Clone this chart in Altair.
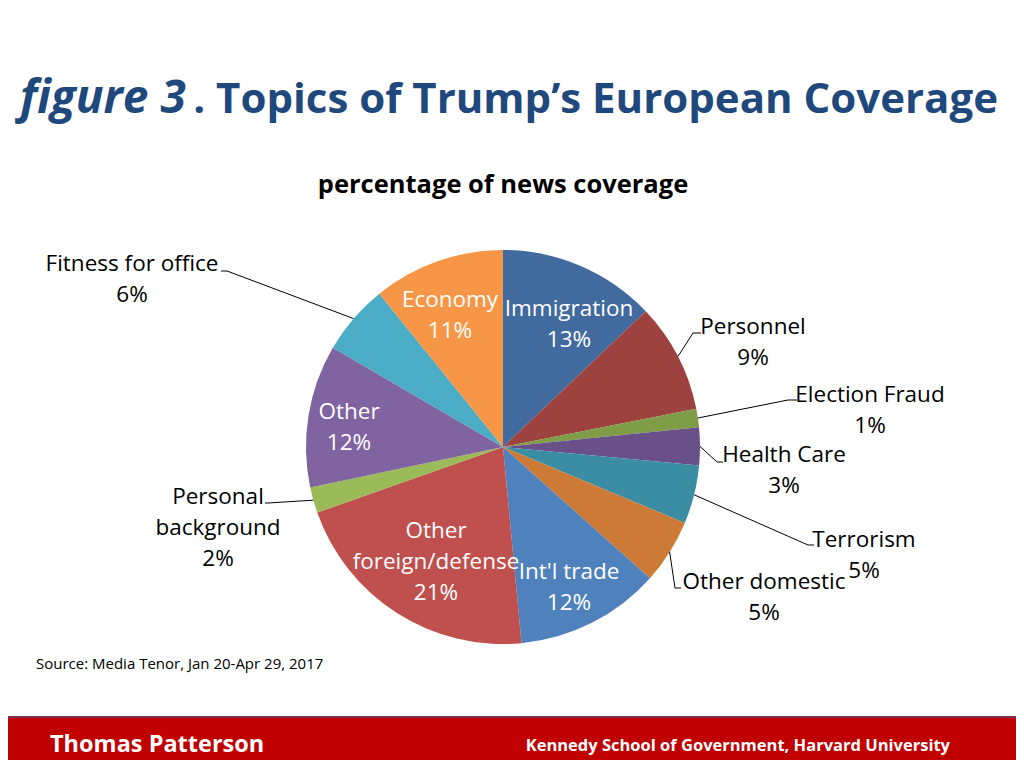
import math
import altair as alt
import pandas as pd

# ---------------- data ----------------
topics = ["Immigration", "Personnel", "Election Fraud", "Health Care", "Terrorism",
          "Other domestic", "Int'l trade", "Other foreign/defense", "Personal background",
          "Other", "Fitness for office", "Economy"]
shares = [12.9, 9.0, 1.5, 3.1, 4.8, 5.3, 11.9, 21.1, 2.1, 11.7, 5.8, 10.8]
pct_labels = ["13%", "9%", "1%", "3%", "5%", "5%", "12%", "21%", "2%", "12%", "6%", "11%"]
colors = ["#416A9E", "#9E4240", "#7E9D46", "#6A5088", "#3A8DA3", "#CD7A37",
          "#4F81BD", "#C0504D", "#9BBB59", "#8064A2", "#4BACC6", "#F79646"]

title_italic = "figure 3"
title_rest = ". Topics of Trump\u2019s European Coverage"
subtitle = "percentage of news coverage"
source = "Source: Media Tenor, Jan 20-Apr 29, 2017"
footer_left = "Thomas Patterson"
footer_right = "Kennedy School of Government, Harvard University"

# ---------------- layout (page pixels) ----------------
FONT = "Open Sans"
OFF = 8
W, H = 1008, 752
CX, CY, R = 503, 447, 197
LS = 31  # label line spacing
LSIZE = 22.5
wrap = {"Other foreign/defense": "Other\nforeign/defense",
        "Personal background": "Personal\nbackground"}
# centre of the first text line of each label
inside_pos = {"Immigration": (569, 309), "Int'l trade": (569, 572),
              "Other foreign/defense": (436, 531), "Other": (349, 412),
              "Economy": (450, 300)}
outside_pos = {
    "Personnel": ((753, 327), [(693, 333), (701, 333)]),
    "Election Fraud": ((870, 395), [(788, 400), (797, 400)]),
    "Health Care": ((784, 455), [(717, 462), (723, 462)]),
    "Terrorism": ((864, 540), [(808, 545), (814, 545)]),
    "Other domestic": ((764, 582), [(675, 588), (681, 588)]),
    "Personal background": ((218, 497), [(268, 503), (265, 503)]),
    "Fitness for office": ((132, 264), [(227, 271), (221, 271)]),
}

total = sum(shares)
pie_df = pd.DataFrame({"topic": topics, "share": shares, "idx": list(range(len(topics)))})

in_rows, out_rows, line_rows = [], [], []
cum = 0.0
for t, s, p in zip(topics, shares, pct_labels):
    mid = (cum + s / 2) / total * 2 * math.pi
    cum += s
    txt = wrap.get(t, t) + "\n" + p
    if t in inside_pos:
        x, y = inside_pos[t]
        in_rows.append({"x": x - OFF, "y": y - OFF, "txt": txt})
    else:
        (x, y), pts = outside_pos[t]
        out_rows.append({"x": x - OFF, "y": y - OFF, "txt": txt})
        ex, ey = CX + R * math.sin(mid), CY - R * math.cos(mid)
        for k, (px, py) in enumerate([(ex, ey)] + pts):
            line_rows.append({"topic": t, "k": k, "x": px - OFF, "y": py - OFF})

one = pd.DataFrame({"a": [0]})

band = alt.Chart(one).mark_rect(color="#C00000", stroke="#7A3450", strokeWidth=2).encode(
    x=alt.value(-4), x2=alt.value(W + 4), y=alt.value(717 - OFF), y2=alt.value(H + 10))

pie = alt.Chart(pie_df).mark_arc(radius=R).encode(
    theta=alt.Theta("share:Q", stack=True),
    color=alt.Color("topic:N", scale=alt.Scale(domain=topics, range=colors), legend=None),
    order=alt.Order("idx:Q"),
    x=alt.value(CX - OFF), y=alt.value(CY - OFF))

lines = alt.Chart(pd.DataFrame(line_rows)).mark_line(color="black", strokeWidth=1).encode(
    x=alt.X("x:Q", scale=None), y=alt.Y("y:Q", scale=None),
    detail="topic:N", order="k:Q")

in_text = alt.Chart(pd.DataFrame(in_rows)).mark_text(
    font=FONT, fontSize=LSIZE, color="white", lineBreak="\n", lineHeight=LS,
    align="center", baseline="middle").encode(
    x=alt.X("x:Q", scale=None), y=alt.Y("y:Q", scale=None), text="txt:N")

out_text = alt.Chart(pd.DataFrame(out_rows)).mark_text(
    font=FONT, fontSize=LSIZE, color="black", lineBreak="\n", lineHeight=LS,
    align="center", baseline="middle").encode(
    x=alt.X("x:Q", scale=None), y=alt.Y("y:Q", scale=None), text="txt:N")


def label(txt, x, y, size, color, weight="normal", style="normal", align="left"):
    return alt.Chart(pd.DataFrame({"t": [txt]})).mark_text(
        font=FONT, fontSize=size, color=color, fontWeight=weight, fontStyle=style,
        align=align, baseline="alphabetic").encode(
        text="t:N", x=alt.value(x - OFF), y=alt.value(y - OFF))


t1 = label(title_italic, 20, 113, 46, "#1F487C", "bold", "italic", "left")
t2 = label(title_rest, 998, 113, 42, "#1F487C", "bold", "normal", "right")
sub = label(subtitle, 503, 193, 25.5, "black", "bold", "normal", "center")
src = label(source, 36, 669, 15, "black", "normal", "normal", "left")
f1 = label(footer_left, 50, 752, 23.5, "white", "bold", "normal", "left")
f2 = label(footer_right, 950, 751, 16.5, "white", "bold", "normal", "right")

chart = alt.layer(band, pie, lines, in_text, out_text, t1, t2, sub, src, f1, f2).properties(
    width=W, height=H, padding=0, autosize="none", background="white"
).configure_view(strokeWidth=0)

chart.save("out.html", embed_options={"renderer": "svg", "actions": False})
